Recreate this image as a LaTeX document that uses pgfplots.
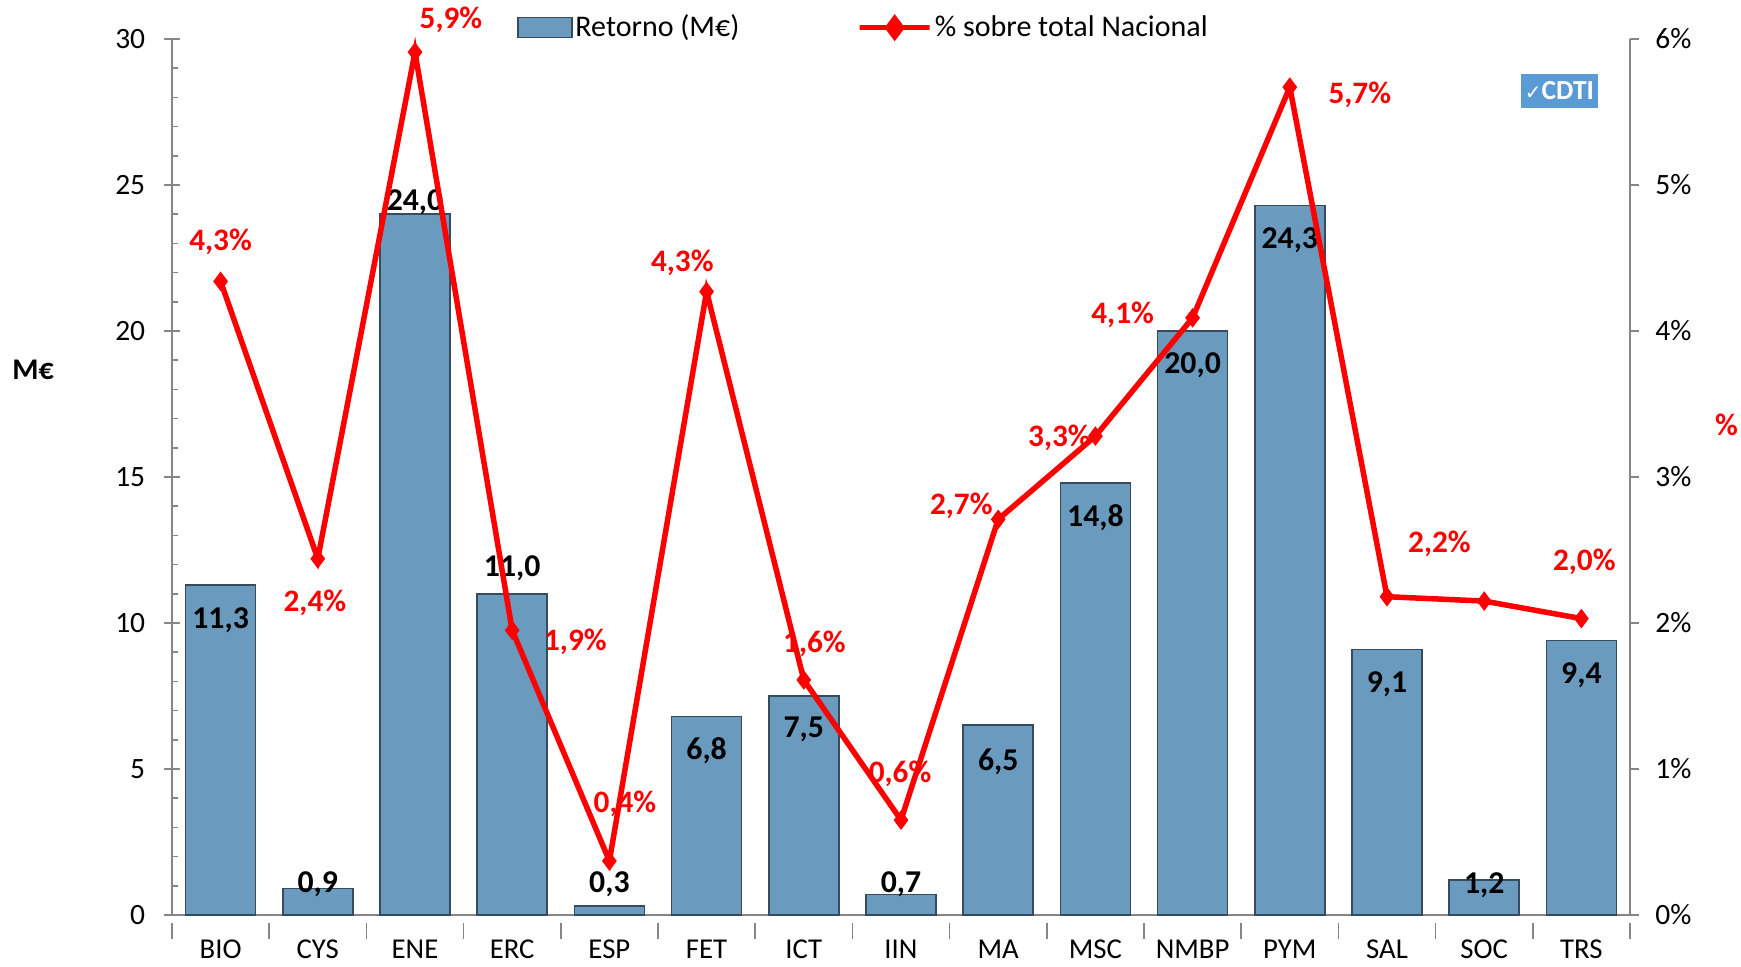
\documentclass[border=0pt]{standalone}
\usepackage{pgfplots}
\pgfplotsset{compat=1.18}
\usepackage{fontspec}
\setmainfont{Carlito}
\newfontfamily\dejavu{DejaVu Sans}
\definecolor{barblue}{RGB}{106,154,189}
\definecolor{bardark}{RGB}{55,75,95}
\definecolor{axisgray}{RGB}{134,134,134}
\definecolor{logoblue}{RGB}{91,155,213}
\pgfplotsset{
  barleg/.style={legend image code/.code={\draw[##1] (0pt,-4pt) rectangle (21.6pt,4pt);}},
  lineleg/.style={legend image code/.code={\draw[##1] (0pt,0pt) -- (14pt,0pt); \path[##1] plot coordinates {(7pt,0pt)};}},
}
\begin{document}
\begin{tikzpicture}
\useasboundingbox (-68.8pt,-20.8pt) rectangle (627.6pt,366pt);
\begin{axis}[
  scale only axis, width=583.2pt, height=350.4pt,
  xmin=-0.5, xmax=14.5, ymin=0, ymax=30,
  clip=false,
  axis y line*=left, axis x line*=bottom,
  axis line style={draw=axisgray, line width=0.7pt},
  every tick/.style={draw=axisgray, line width=0.7pt},
  tick align=center,
  major tick length=6.4pt, minor tick length=2.4pt,
  every major x tick/.append style={yshift=-3.2pt},
  every minor y tick/.append style={xshift=1.2pt},
  xtick={-0.5,0.5,1.5,2.5,3.5,4.5,5.5,6.5,7.5,8.5,9.5,10.5,11.5,12.5,13.5,14.5},
  x tick label as interval,
  xticklabels={BIO,CYS,ENE,ERC,ESP,FET,ICT,IIN,MA,MSC,NMBP,PYM,SAL,SOC,TRS,},
  ytick={0,5,10,15,20,25,30},
  minor y tick num=4,
  /pgf/number format/assume math mode=true,
  ticklabel style={font=\fontsize{11.8}{14}\selectfont},
  xticklabel style={yshift=-0.2pt, font=\fontsize{11.5}{14}\selectfont},
  yticklabel style={xshift=-4pt},
  ybar, bar width=0.72,
  legend columns=2,
  legend style={at={(0.2366,1.0129)}, anchor=west, draw=none, fill=none,
    inner sep=0pt, font=\fontsize{12}{14}\selectfont,
    nodes={inner sep=1pt},
    /tikz/every even column/.append style={column sep=46pt}},
  legend cell align=left,
]
\addplot[ybar, fill=barblue, draw=bardark, line width=0.6pt, barleg]
  coordinates {(0,11.3) (1,0.9) (2,24.0) (3,11.0) (4,0.3) (5,6.8) (6,7.5) (7,0.7)
               (8,6.5) (9,14.8) (10,20.0) (11,24.3) (12,9.1) (13,1.2) (14,9.4)};
\addlegendentry{Retorno (M€)}
\addlegendimage{red, line width=2.2pt, mark=diamond*, mark size=3.6pt, lineleg}
\addlegendentry{\% sobre total Nacional}
\begin{scope}[every node/.style={font=\bfseries\fontsize{12.7}{14}\selectfont, inner sep=0pt}]
\node at (axis cs:0,10.11) {11,3};
\node at (axis cs:1,1.06) {0,9};
\node at (axis cs:2,24.42) {24,0};
\node at (axis cs:3,11.86) {11,0};
\node at (axis cs:4,1.06) {0,3};
\node at (axis cs:5,5.63) {6,8};
\node at (axis cs:6,6.35) {7,5};
\node at (axis cs:7,1.06) {0,7};
\node at (axis cs:8,5.25) {6,5};
\node at (axis cs:9,13.61) {14,8};
\node at (axis cs:10,18.82) {20,0};
\node at (axis cs:11,23.12) {24,3};
\node at (axis cs:12,7.91) {9,1};
\node at (axis cs:13,1.03) {1,2};
\node at (axis cs:14,8.21) {9,4};
\end{scope}
\node[font=\bfseries\fontsize{12}{14}\selectfont] at (rel axis cs:-0.0953,0.622) {M€};
\node[font=\bfseries\fontsize{12.5}{14}\selectfont, text=red] at (rel axis cs:1.0662,0.5594) {\%};
\node[fill=logoblue, text=white, font=\bfseries\fontsize{11}{12}\selectfont, inner sep=1pt,
  minimum width=30.8pt, minimum height=13.6pt] at (rel axis cs:0.9516,0.9406)
  {{\dejavu\fontsize{8}{9}\selectfont ✓}CDTI};
\end{axis}
\begin{axis}[
  scale only axis, width=583.2pt, height=350.4pt,
  xmin=-0.5, xmax=14.5, ymin=0, ymax=6,
  clip=false,
  axis y line*=right, axis x line=none,
  axis line style={draw=axisgray, line width=0.7pt},
  every tick/.style={draw=axisgray, line width=0.7pt},
  tick align=outside, major tick length=3.6pt,
  ytick={0,1,2,3,4,5,6},
  /pgf/number format/assume math mode=true,
  yticklabel={\pgfmathprintnumber{\tick}\%},
  ticklabel style={font=\fontsize{11.8}{14}\selectfont},
  yticklabel style={xshift=3pt},
]
\addplot[red, line width=2.2pt, mark=diamond*, mark size=3.6pt, mark options={line width=0.4pt}]
  coordinates {(0,4.34) (1,2.44) (2,5.91) (3,1.95) (4,0.37) (5,4.27) (6,1.61) (7,0.65)
               (8,2.71) (9,3.28) (10,4.09) (11,5.67) (12,2.18) (13,2.15) (14,2.03)};
\begin{scope}[every node/.style={font=\bfseries\fontsize{12.5}{14}\selectfont, text=red, inner sep=0pt}]
\node at (axis cs:0,4.61) {4,3\%};
\node at (axis cs:0.97,2.14) {2,4\%};
\node at (axis cs:2.37,6.13) {5,9\%};
\node at (axis cs:3.65,1.87) {1,9\%};
\node at (axis cs:4.16,0.76) {0,4\%};
\node at (axis cs:4.75,4.47) {4,3\%};
\node at (axis cs:6.11,1.86) {1,6\%};
\node at (axis cs:6.99,0.97) {0,6\%};
\node at (axis cs:7.62,2.80) {2,7\%};
\node at (axis cs:8.63,3.27) {3,3\%};
\node at (axis cs:9.28,4.11) {4,1\%};
\node at (axis cs:11.72,5.62) {5,7\%};
\node at (axis cs:12.54,2.54) {2,2\%};
\node at (axis cs:14.03,2.42) {2,0\%};
\end{scope}
\end{axis}
\end{tikzpicture}
\end{document}
